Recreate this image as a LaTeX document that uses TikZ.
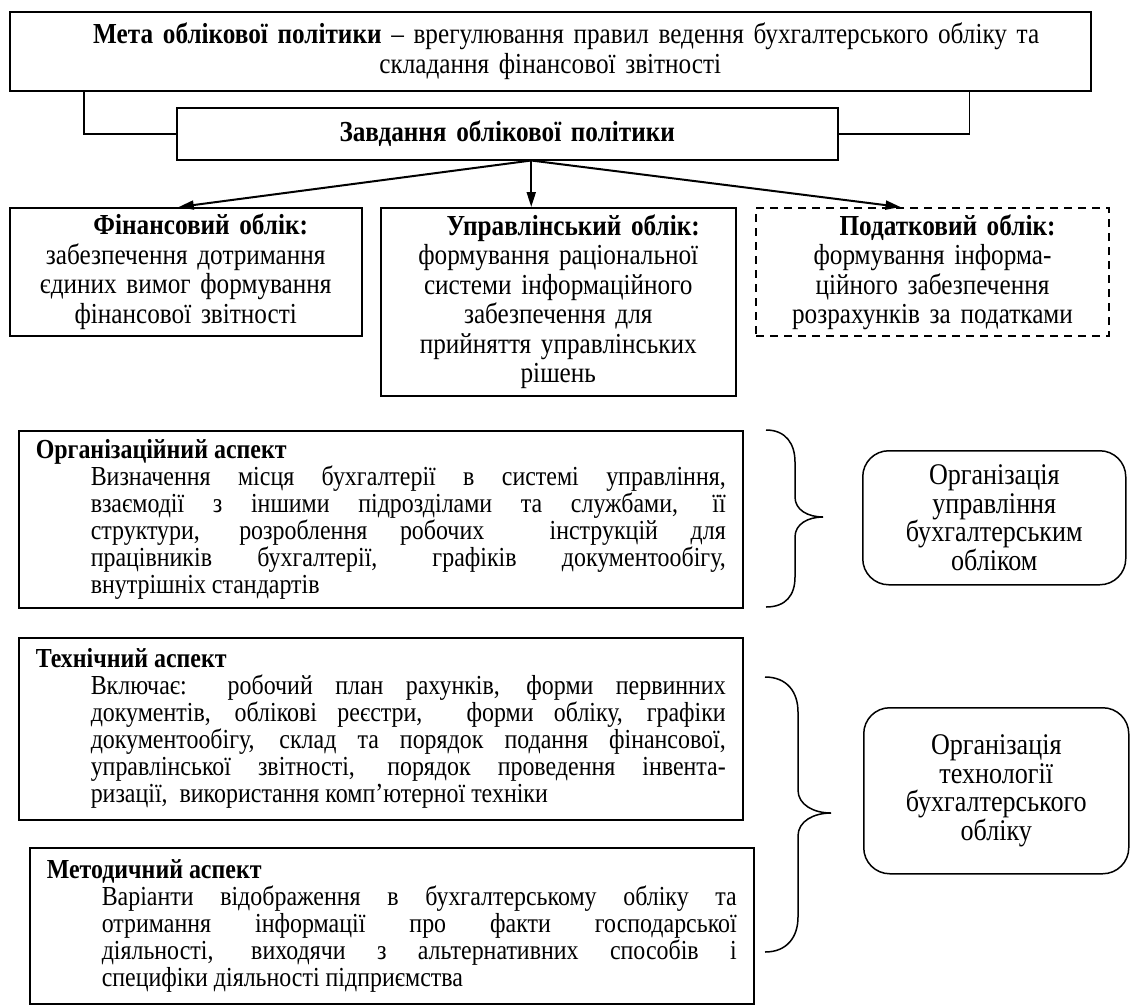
\documentclass[tikz,border=0pt]{standalone}
\usepackage{fontspec}
\setmainfont{Liberation Serif}[FakeStretch=0.87]
\usetikzlibrary{arrows.meta}

\begin{document}
\begin{tikzpicture}[x=1pt, y=-1pt,
  box/.style={draw, line width=1.5pt, align=center, inner sep=0pt, anchor=north west,
    font=\fontsize{29}{29.5}\selectfont},
  aspect/.style={draw, line width=1.5pt, align=justify, inner xsep=17pt, inner ysep=0pt,
    anchor=north west, text width=690pt, font=\fontsize{27.5}{27}\selectfont,
    execute at begin node=\setlength{\parindent}{0pt}},
  goal/.style={draw, line width=1.5pt, rounded corners=26pt, align=center, inner sep=0pt,
    anchor=north west, text width=240pt, font=\fontsize{30}{28.5}\selectfont},
  arr/.style={-{Triangle[length=15pt, width=9pt]}, line width=2pt},
  link/.style={line width=1.5pt},
  curl/.style={line width=1.5pt}]
\useasboundingbox (0,0) rectangle (1131,1004);

% top part
\node[box, minimum width=1081pt, minimum height=79pt, text width=1060pt] (meta) at (9,11)
  {\hspace*{32pt}\textbf{Мета облікової політики} – врегулювання правил ведення бухгалтерського обліку та\\складання фінансової звітності};
\node[box, minimum width=661pt, minimum height=52pt, text width=640pt] (zav) at (176,107)
  {\textbf{Завдання облікової політики}};
\draw[link] ([xshift=75pt]meta.south west) |- (zav.west);
\draw[link] ([xshift=-122pt]meta.south east) |- (zav.east);

\node[box, minimum width=352pt, minimum height=128pt, text width=340pt] (fin) at (9,207)
  {\hspace*{30pt}\textbf{Фінансовий облік:}\\забезпечення дотримання\\єдиних вимог формування\\фінансової звітності};
\node[box, minimum width=355pt, minimum height=188pt, text width=340pt] (upr) at (380,207)
  {\hspace*{30pt}\textbf{Управлінський облік:}\\формування раціональної\\системи інформаційного\\забезпечення для\\прийняття управлінських\\рішень};
\node[box, dash pattern=on 8pt off 6pt, line width=2pt, minimum width=353pt, minimum height=128pt, text width=340pt] (pod) at (755,207)
  {\hspace*{30pt}\textbf{Податковий облік:}\\формування інформа-\\ційного забезпечення\\розрахунків за податками};

\coordinate (split) at ([xshift=24pt]zav.south);
\draw[arr] (split) -- ([xshift=-7pt]fin.north);
\draw[arr] (split) -- (split |- upr.north);
\draw[arr] (split) -- ([xshift=-32pt]pod.north);

% aspects
\node[aspect, minimum height=177pt] (org) at (18,430)
  {\textbf{Організаційний аспект}\par
   \leftskip=55pt Визначення місця бухгалтерії в системі управління,\linebreak
   взаємодії з іншими підрозділами та службами, її\linebreak
   структури, розроблення робочих \ інструкцій для\linebreak
   працівників бухгалтерії, графіків документообігу,\linebreak
   внутрішніх стандартів\par};
\node[aspect, minimum height=182pt] (tekh) at (18,637)
  {\textbf{Технічний аспект}\par
   \leftskip=55pt Включає: робочий план рахунків, форми первинних\linebreak
   документів, облікові реєстри, \ форми обліку, графіки\linebreak
   документообігу, склад та порядок подання фінансової,\linebreak
   управлінської звітності, порядок проведення інвента-\linebreak
   ризації, \ використання комп’ютерної техніки\par};
\node[aspect, minimum height=156pt] (metod) at (29,847)
  {\textbf{Методичний аспект}\par
   \leftskip=55pt Варіанти відображення в бухгалтерському обліку та\linebreak
   отримання інформації про факти господарської\linebreak
   діяльності, виходячи з альтернативних способів і\linebreak
   специфіки діяльності підприємства\par};

\node[goal, minimum width=263pt, minimum height=134pt] (orgupr) at (862,450)
  {Організація\\управління\\бухгалтерським\\обліком};
\node[goal, minimum width=265pt, minimum height=166pt] (orgtekh) at (863,707)
  {Організація\\технології\\бухгалтерського\\обліку};

% braces
\draw[curl] (766,430) .. controls (786,430) and (795,444) .. (795,462) -- (795,497)
  .. controls (795,510) and (808,517) .. (823,517)
  .. controls (808,517) and (795,524) .. (795,537) -- (795,577)
  .. controls (795,595) and (786,607) .. (766,607);
\draw[curl] (765,677) .. controls (787,677) and (798,692) .. (798,712) -- (798,790)
  .. controls (798,805) and (814,813) .. (831,813)
  .. controls (814,813) and (798,821) .. (798,836) -- (798,917)
  .. controls (798,937) and (787,952) .. (765,952);
\end{tikzpicture}
\end{document}
